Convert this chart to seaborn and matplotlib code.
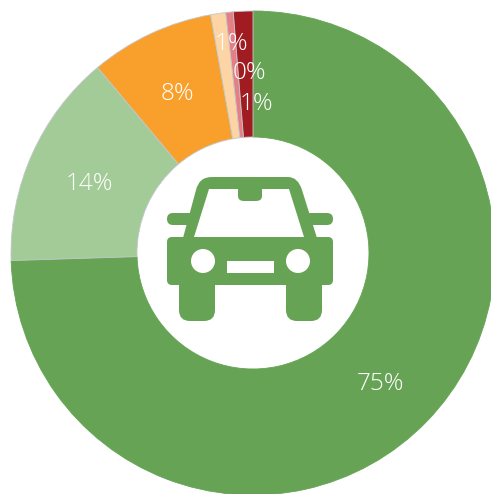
import matplotlib
matplotlib.use("Agg")
import matplotlib.pyplot as plt
from matplotlib.patches import Circle, FancyBboxPatch, Rectangle
from matplotlib.path import Path
from matplotlib.patches import PathPatch
import seaborn as sns

# data
categories = ["A", "B", "C", "D", "E", "F"]
values = [74.5, 14.4, 8.3, 1.0, 0.5, 1.3]
labels = ["75%", "14%", "8%", "1%", "0%", "1%"]
colors = ["#66A355", "#A3CB98", "#F9A02C", "#FDD5A5", "#E57F85", "#A01C20"]

W, H = 491, 494
sns.set_theme(style="white")
plt.rcParams["font.family"] = ["Open Sans", "DejaVu Sans"]
fig = plt.figure(figsize=(W / 100, H / 100), dpi=100)
ax = fig.add_axes([0, 0, 1, 1])
ax.set_xlim(0, W)
ax.set_ylim(H, 0)
ax.axis("off")

GREEN = colors[0]
cx, cy, R, r = 253, 253, 242, 116

# y axis is inverted, so counterclock=True draws clockwise on screen
wedges, _ = ax.pie(
    values, colors=colors, center=(cx, cy), radius=R, startangle=-90,
    counterclock=True, frame=False,
    wedgeprops=dict(width=R - r, edgecolor="#c2c8cc", linewidth=0.6),
)
ax.set_xlim(0, W)
ax.set_ylim(H, 0)
ax.set_aspect("equal")
wedges[0].set_edgecolor(GREEN)

label_xy = [(381, 384), (89, 184), (177, 94), (232, 44), (249, 73), (257, 104)]
for (x, y), t in zip(label_xy, labels):
    ax.text(x, y, t, color="white", fontsize=17.5, fontweight="light",
            ha="center", va="center", zorder=5)

# car icon
def rbox(x0, y0, x1, y1, rad):
    ax.add_patch(FancyBboxPatch((x0 + rad, y0 + rad), x1 - x0 - 2 * rad, y1 - y0 - 2 * rad,
                                boxstyle=f"round,pad={rad},rounding_size={rad}",
                                fc=GREEN, ec="none", zorder=3))

rbox(167, 237, 333, 285, 5)
rbox(167, 213, 195, 225, 6)
rbox(305, 213, 333, 225, 6)
rbox(179, 270, 215, 321, 11)
rbox(286, 270, 322, 321, 11)

C3, L, M = Path.CURVE3, Path.LINETO, Path.MOVETO
roof_v = [(183, 238), (196, 190), (199, 177), (212, 177), (288, 177), (298, 177), (302, 190),
          (317, 238), (183, 238)]
roof_c = [M, L, C3, C3, L, C3, C3, L, Path.CLOSEPOLY]
ax.add_patch(PathPatch(Path(roof_v, roof_c), fc=GREEN, ec="none", zorder=3))

glass_v = [(194, 237), (209, 189), (238, 189), (238, 196), (238, 201), (244, 201), (256, 201),
           (262, 201), (262, 196), (262, 189), (289, 189), (304, 237), (194, 237)]
glass_c = [M, L, L, L, C3, C3, L, C3, C3, L, L, L, Path.CLOSEPOLY]
ax.add_patch(PathPatch(Path(glass_v, glass_c), fc="white", ec="none", zorder=4))

ax.add_patch(Circle((203, 261), 12, fc="white", ec="none", zorder=4))
ax.add_patch(Circle((298, 261), 12, fc="white", ec="none", zorder=4))
ax.add_patch(Rectangle((227, 261), 47, 12, fc="white", ec="none", zorder=4))

fig.savefig("out.png", dpi=100, facecolor="white")
